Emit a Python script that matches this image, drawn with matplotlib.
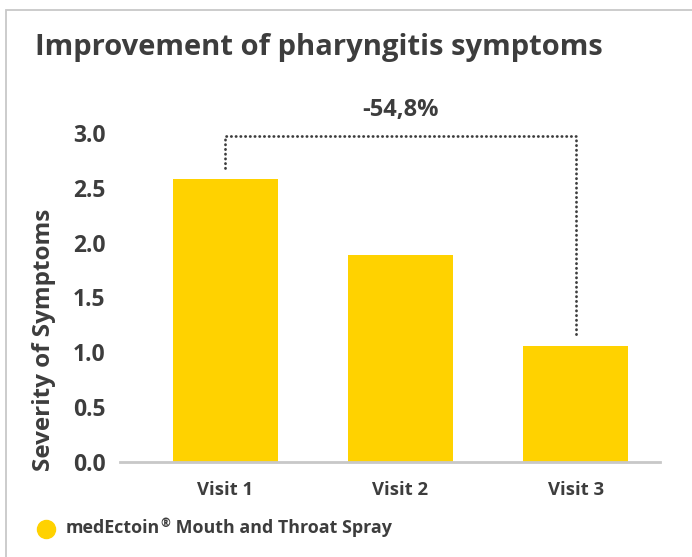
import matplotlib
matplotlib.use("Agg")
import matplotlib.pyplot as plt
from matplotlib.patches import Rectangle
from matplotlib import font_manager

visits = ["Visit 1", "Visit 2", "Visit 3"]
severity = [2.58, 1.89, 1.06]
yticks = [0.0, 0.5, 1.0, 1.5, 2.0, 2.5, 3.0]
change_label = "-54,8%"
series_brand = "medEctoin"
series_rest = " Mouth and Throat Spray"

yellow = "#FFD200"
text_col = "#3d3d3d"
grey = "#c8c8c8"


def font_file(fname, fallback_family, weight="bold"):
    for f in font_manager.fontManager.ttflist:
        if f.fname.endswith(fname):
            return dict(fname=f.fname)
    return dict(family=fallback_family, weight=weight)


bold = font_file("OpenSans-Bold.ttf", "Open Sans")


def fp(size, spec=bold):
    return font_manager.FontProperties(size=size, **spec)


fig = plt.figure(figsize=(6.92, 5.57), dpi=100)
W, H = 692, 557

# light border around the card
fig.patches.append(Rectangle((6 / W, -0.1), 1.2, 1 - 10 / H + 0.1, transform=fig.transFigure,
                             fill=False, edgecolor=grey, linewidth=1.3))

fig.text(35 / W, 1 - 55 / H, "Improvement of pharyngitis symptoms", fontproperties=fp(21),
         color=text_col, va="baseline", ha="left")

ax = fig.add_axes([120 / W, 1 - 462 / H, 540 / W, 329 / H])
x = list(range(len(visits)))
ax.bar(x, severity, width=0.6, color=yellow)
ax.set_xlim(-0.6, 2.48)
ax.set_ylim(0, 3.0)
ax.set_yticks(yticks)
ax.set_yticklabels([f"{v:.1f}" for v in yticks], fontproperties=fp(16.5), color=text_col)
ax.set_xticks(x)
ax.set_xticklabels(visits, fontproperties=fp(13.3), color=text_col)
ax.tick_params(length=0)
ax.tick_params(axis="y", pad=10.5)
ax.tick_params(axis="x", pad=14)
for s in ["top", "right", "left"]:
    ax.spines[s].set_visible(False)
ax.spines["bottom"].set_color(grey)
ax.spines["bottom"].set_linewidth(2)
ax.set_ylabel("Severity of Symptoms", fontproperties=fp(17.5), color=text_col)
ax.yaxis.set_label_coords(-0.118, 0.37)

# bracket showing the drop from visit 1 to visit 3
bx = [x[0], x[0], x[2], x[2]]
by = [severity[0] + 0.1, 2.97, 2.97, severity[2] + 0.07]
ax.plot(bx, by, color=text_col, linewidth=2, linestyle=(0, (0.1, 1.6)),
        dash_capstyle="round", clip_on=False)
ax.text((x[0] + x[2]) / 2, 3.1, change_label, ha="center", va="bottom",
        fontproperties=fp(17), color=text_col, clip_on=False)

# legend: marker, brand name with small raised (R), rest of the name
ly = 1 - 533 / H
fig.lines.append(plt.Line2D([46 / W], [1 - 529 / H], marker="o", markersize=13,
                            color=yellow, transform=fig.transFigure))
t1 = fig.text(66 / W, ly, series_brand, fontproperties=fp(12.9),
              color=text_col, va="baseline", ha="left")
fig.canvas.draw()
x1 = t1.get_window_extent().x1 / W
t2 = fig.text(x1 + 0.5 / W, ly + 6 / H, "\u00ae", fontproperties=fp(8.5),
              color=text_col, va="baseline", ha="left")
fig.canvas.draw()
x2 = t2.get_window_extent().x1 / W
fig.text(x2, ly, series_rest, fontproperties=fp(12.9),
         color=text_col, va="baseline", ha="left")

fig.savefig("out.png", dpi=100)
